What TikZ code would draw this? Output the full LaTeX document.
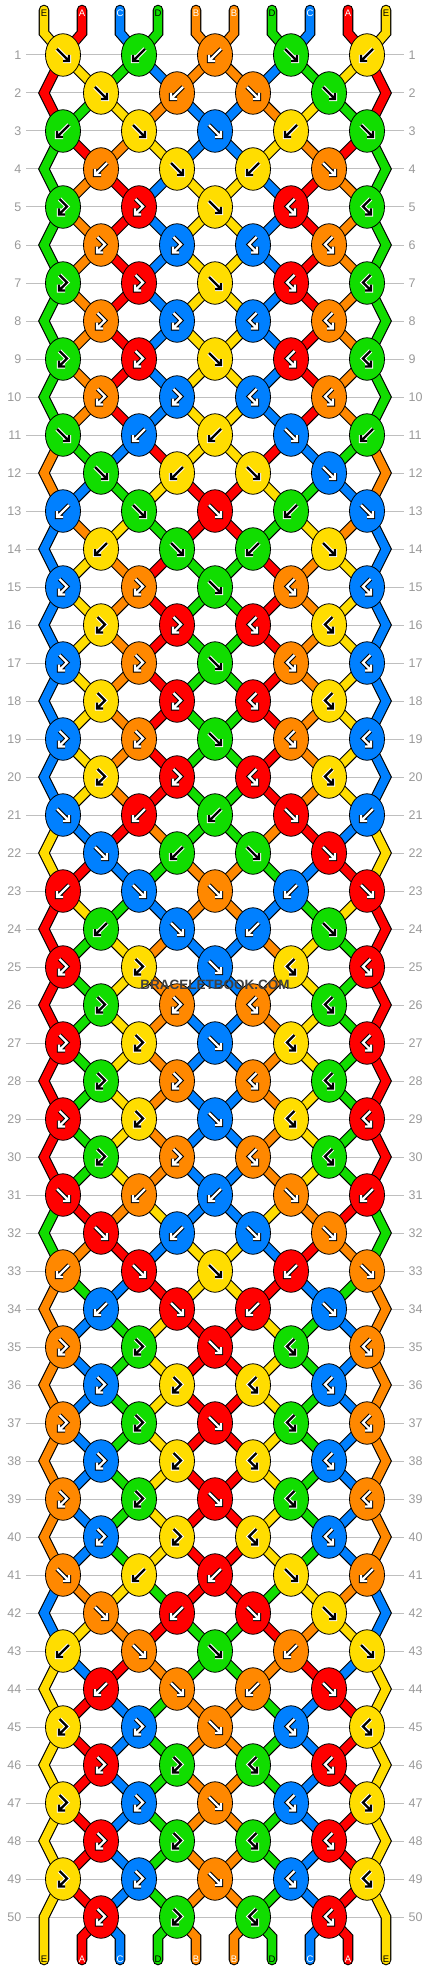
\documentclass[tikz,border=0pt]{standalone}
\usepackage{fontspec}
\setmainfont{Liberation Sans}
\usetikzlibrary{shapes.geometric}
\definecolor{cA}{HTML}{FF0000}
\definecolor{cB}{HTML}{FF8800}
\definecolor{cC}{HTML}{0080FF}
\definecolor{cD}{HTML}{11DD00}
\definecolor{cE}{HTML}{FFDD00}
\colorlet{aA}{white}\colorlet{oA}{black}
\colorlet{aB}{white}\colorlet{oB}{black}
\colorlet{aC}{white}\colorlet{oC}{black}
\colorlet{aD}{black}\colorlet{oD}{white}
\colorlet{aE}{black}\colorlet{oE}{white}
\definecolor{rowgray}{HTML}{BFBFBF}
\definecolor{labgray}{HTML}{9A9A9A}
\definecolor{wmark}{HTML}{404040}
\colorlet{strc}{black}\colorlet{knc}{white}\colorlet{glfg}{black}\colorlet{glbg}{white}\colorlet{txc}{black}

% knot types: 1 forward, 2 backward, 3 forward-backward, 4 backward-forward
\expandafter\def\csname TL1\endcsname{1,2,2,1,2}
\expandafter\def\csname TL2\endcsname{1,2,1,1}
\expandafter\def\csname TL3\endcsname{2,1,1,2,1}
\expandafter\def\csname TL4\endcsname{2,1,2,1}
\expandafter\def\csname TL5\endcsname{3,3,1,4,4}
\expandafter\def\csname TL6\endcsname{3,3,4,4}
\expandafter\def\csname TL7\endcsname{3,3,1,4,4}
\expandafter\def\csname TL8\endcsname{3,3,4,4}
\expandafter\def\csname TL9\endcsname{3,3,1,4,4}
\expandafter\def\csname TL10\endcsname{3,3,4,4}

\def\initS{E,A,C,D,B,B,D,C,A,E}
\foreach \ilt [count=\pp] in \initS {%
  \expandafter\xdef\csname S\pp\endcsname{\ilt}%
  \expandafter\xdef\csname R0P\pp\endcsname{\ilt}}

\foreach \rr in {1,...,50}{%
  \pgfmathtruncatemacro\mm{mod(\rr-1,10)+1}%
  \pgfmathtruncatemacro\isodd{mod(\rr,2)}%
  \edef\mytl{\csname TL\mm\endcsname}%
  \foreach \ty [count=\kk] in \mytl {%
    \ifnum\isodd=1 \pgfmathtruncatemacro\lpos{2*\kk-1}\else\pgfmathtruncatemacro\lpos{2*\kk}\fi
    \pgfmathtruncatemacro\rpos{\lpos+1}%
    \edef\lcol{\csname S\lpos\endcsname}\edef\rcol{\csname S\rpos\endcsname}%
    \ifodd\ty\relax
      \expandafter\xdef\csname K\rr N\kk\endcsname{\lcol}%
    \else
      \expandafter\xdef\csname K\rr N\kk\endcsname{\rcol}%
    \fi
    \expandafter\xdef\csname T\rr N\kk\endcsname{\ty}%
    \ifnum\ty<3 
      \expandafter\xdef\csname S\lpos\endcsname{\rcol}%
      \expandafter\xdef\csname S\rpos\endcsname{\lcol}%
    \fi
  }%
  \foreach \pp in {1,...,10}{\expandafter\xdef\csname R\rr P\pp\endcsname{\csname S\pp\endcsname}}%
}

\newcommand\getposx[2]{%
  \ifodd#1\relax \pgfmathtruncatemacro\mypx{63+76*floor((#2-1)/2)}%
  \else\ifnum#2=1 \def\mypx{44}\else\ifnum#2=10 \def\mypx{386}\else\pgfmathtruncatemacro\mypx{101+76*(floor(#2/2)-1)}\fi\fi\fi}

\newcommand\drawglyph[1]{%
  \foreach \gs in {glyphout,glyphin}{%
   \ifcase#1\relax
   \or \draw[\gs,shift={(\xx,\yy)}] (-6,-6)--(6,6) (0,6)--(6,6)--(6,0);
   \or \draw[\gs,shift={(\xx,\yy)}] (6,-6)--(-6,6) (0,6)--(-6,6)--(-6,0);
   \or \draw[\gs,shift={(\xx,\yy)}] (-3.5,-8)--(4,-0.5)--(-4,7.5) (-4,1.5)--(-4,7.5)--(2,7.5);
   \or \draw[\gs,shift={(\xx,\yy)}] (3.5,-8)--(-4,-0.5)--(4,7.5) (4,1.5)--(4,7.5)--(-2,7.5);
   \fi}}

\begin{document}
\begin{tikzpicture}[x=1pt,y=-1pt,
  rowline/.style={draw=rowgray,line width=1pt},
  rowlab/.style={text=labgray,font=\fontsize{12.5}{14}\selectfont,inner sep=0pt},
  strand/.style={draw=black,line width=1.1pt,double=strc,double distance=8.4pt,line join=miter},
  knot/.style={ellipse,draw=black,line width=0.8pt,fill=knc,minimum width=35pt,minimum height=42.5pt,inner sep=0pt},
  glyphout/.style={draw=glbg,line width=4.3pt,line join=miter},
  glyphin/.style={draw=glfg,line width=2.3pt,line join=miter},
  strlab/.style={text=txc,font=\fontsize{9.5}{10}\selectfont,inner sep=0pt}]
\path[use as bounding box,fill=white] (0,0) rectangle (430,1972);

% coordinates of string positions
\foreach \rr in {1,...,50}{%
  \pgfmathsetmacro\yy{55+38*(\rr-1)}%
  \foreach \pp in {1,...,10}{%
    \getposx{\rr}{\pp}%
    \coordinate (q\rr-\pp) at (\mypx,\yy);}}
\foreach \pp in {1,...,10}{%
  \pgfmathsetmacro\xx{6+38*\pp}%
  \coordinate (t\pp) at (\xx,10);
  \coordinate (tb\pp) at (\xx,33);
  \coordinate (bb\pp) at (\xx,1937);
  \coordinate (b\pp) at (\xx,1960);}

% row guide lines and numbers
\foreach \rr in {1,...,50}{%
  \pgfmathsetmacro\yy{55+38*(\rr-1)}%
  \coordinate (la\rr) at (26,\yy);
  \coordinate (lb\rr) at (404,\yy);
  \draw[rowline] (la\rr) -- (lb\rr);
  \node[rowlab,anchor=east] (ll\rr) at (21.5,\yy) {\rr};
  \node[rowlab,anchor=west] (rl\rr) at (408.5,\yy) {\rr};}

% top strings
\foreach \pp in {1,...,10}{%
  \edef\scol{\csname R0P\pp\endcsname}%
  \colorlet{strc}{c\scol}%
  \draw[strand,line cap=round] (t\pp) -- (tb\pp) -- (q1-\pp);}

% inner string segments
\foreach \rr in {1,...,49}{%
  \pgfmathtruncatemacro\rn{\rr+1}%
  \foreach \pp in {2,...,9}{%
    \edef\scol{\csname R\rr P\pp\endcsname}%
    \colorlet{strc}{c\scol}%
    \draw[strand] (q\rr-\pp) -- (q\rn-\pp);}}

% edge strings
\foreach \rr in {1,3,...,47}{%
  \pgfmathtruncatemacro\rn{\rr+1}%
  \pgfmathtruncatemacro\rnn{\rr+2}%
  \foreach \pp in {1,10}{%
    \edef\scol{\csname R\rr P\pp\endcsname}%
    \colorlet{strc}{c\scol}%
    \draw[strand] (q\rr-\pp) -- (q\rn-\pp) -- (q\rnn-\pp);}}
\foreach \pp in {1,10}{%
  \edef\scol{\csname R49P\pp\endcsname}%
  \colorlet{strc}{c\scol}%
  \draw[strand,line cap=round] (q49-\pp) -- (q50-\pp) -- (b\pp);}

% bottom strings
\foreach \pp in {2,...,9}{%
  \edef\scol{\csname R50P\pp\endcsname}%
  \colorlet{strc}{c\scol}%
  \draw[strand,line cap=round] (q50-\pp) -- (bb\pp) -- (b\pp);}

% string letters
\foreach \pp in {1,...,10}{%
  \pgfmathsetmacro\xx{6+38*\pp}%
  \edef\scol{\csname R0P\pp\endcsname}%
  \colorlet{txc}{a\scol}%
  \node[strlab] (tl\pp) at (\xx,13) {\scol};
  \edef\scol{\csname R50P\pp\endcsname}%
  \colorlet{txc}{a\scol}%
  \node[strlab] (bl\pp) at (\xx,1959.5) {\scol};}

% knots
\foreach \rr in {1,...,50}{%
  \pgfmathsetmacro\yy{55+38*(\rr-1)}%
  \pgfmathtruncatemacro\isodd{mod(\rr,2)}%
  \ifnum\isodd=1 \def\nk{5}\def\xo{63}\else\def\nk{4}\def\xo{101}\fi
  \foreach \kk in {1,...,\nk}{%
    \pgfmathsetmacro\xx{\xo+76*(\kk-1)}%
    \edef\kc{\csname K\rr N\kk\endcsname}%
    \edef\kt{\csname T\rr N\kk\endcsname}%
    \colorlet{knc}{c\kc}\colorlet{glfg}{a\kc}\colorlet{glbg}{o\kc}%
    \node[knot] (k\rr-\kk) at (\xx,\yy) {};
    \drawglyph{\kt}}}

\node[text=wmark,font=\bfseries\fontsize{13.5}{15}\selectfont,inner sep=0pt] (wm) at (215,985) {BRACELETBOOK.COM};
\end{tikzpicture}
\end{document}
